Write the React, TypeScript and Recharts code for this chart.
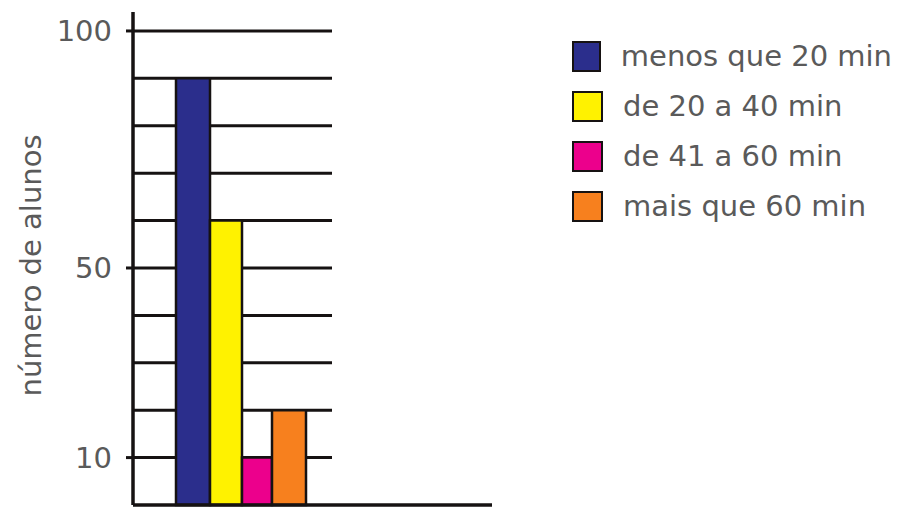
import React from 'react';
import { BarChart, Bar, XAxis, YAxis, CartesianGrid, Legend } from 'recharts';

const categories = ['tempo'];
const seriesNames = ['menos que 20 min', 'de 20 a 40 min', 'de 41 a 60 min', 'mais que 60 min'];
const seriesValues = [90, 60, 10, 20];
const seriesColors = ['#2b2e8c', '#fff200', '#ec008c', '#f7801e'];
const yTickValues = [10, 50, 100];
const gridValues = [10, 20, 30, 40, 50, 60, 70, 80, 90, 100];

const barSizes = [34, 32, 30, 34];
const FONT = '"DejaVu Sans", "Liberation Sans", Arial, sans-serif';
const TEXT = '#5a5a5a';
const INK = '#161212';

const data = categories.map((name) => {
  const row: Record<string, any> = { name };
  seriesValues.forEach((v, i) => {
    row['s' + i] = v;
  });
  return row;
});

const renderLegend = (props: any) => {
  const payload = [...(props.payload || [])].sort(
    (a: any, b: any) => seriesNames.indexOf(a.value) - seriesNames.indexOf(b.value)
  );
  return (
    <div style={{ display: 'flex', flexDirection: 'column' }}>
      {payload.map((e: any, i: number) => (
        <div key={i} style={{ display: 'flex', alignItems: 'center', height: 50 }}>
          <span
            style={{
              display: 'inline-block',
              width: 27,
              height: 27,
              background: e.color,
              border: '2.5px solid ' + INK,
            }}
          />
          <span style={{ marginLeft: 20, fontFamily: FONT, fontSize: 29, color: TEXT, whiteSpace: 'nowrap' }}>
            {e.value}
          </span>
        </div>
      ))}
    </div>
  );
};

export default function App() {
  return (
    <BarChart
      width={893}
      height={502}
      data={data}
      margin={{ top: 4, right: 409, bottom: 4, left: 0 }}
      barGap={0}
    >
      <CartesianGrid
        vertical={false}
        horizontalValues={gridValues}
        width={199}
        stroke={INK}
        strokeWidth={3}
      />
      <XAxis
        dataKey="name"
        height={1}
        tick={false}
        tickLine={false}
        padding={{ left: 0, right: 143 }}
        axisLine={{ stroke: INK, strokeWidth: 3.5 }}
      />
      <YAxis
        width={125}
        domain={[0, 104]}
        ticks={yTickValues}
        interval={0}
        tickSize={7}
        tickMargin={14}
        tickLine={{ stroke: INK, strokeWidth: 3 }}
        axisLine={{ stroke: INK, strokeWidth: 3.5 }}
        tick={{ fontFamily: FONT, fontSize: 29, fill: TEXT }}
        label={{
          value: 'número de alunos',
          angle: -90,
          position: 'insideLeft',
          offset: 23,
          dy: 7,
          style: { textAnchor: 'middle', fontFamily: FONT, fontSize: 29, fill: TEXT },
        }}
      />
      <Legend
        layout="vertical"
        align="center"
        verticalAlign="middle"
        itemSorter={null as any}
        content={renderLegend}
        wrapperStyle={{ left: 564, top: 23, width: 320, height: 'auto' }}
      />
      {seriesNames.map((n, i) => (
        <Bar
          key={n}
          dataKey={'s' + i}
          name={n}
          fill={seriesColors[i]}
          stroke={INK}
          strokeWidth={2.5}
          barSize={barSizes[i]}
          isAnimationActive={false}
        />
      ))}
    </BarChart>
  );
}
